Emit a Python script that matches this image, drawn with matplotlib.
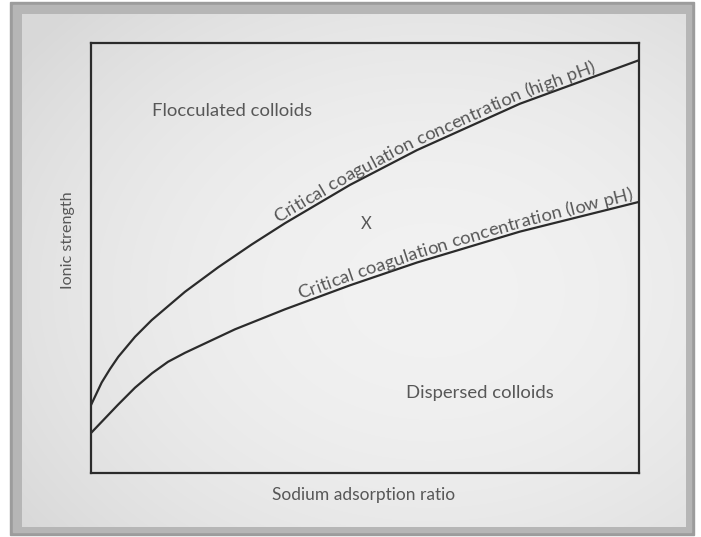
import numpy as np
import matplotlib
matplotlib.use("Agg")
import matplotlib.pyplot as plt
from matplotlib.patches import Rectangle
from matplotlib.transforms import IdentityTransform
from matplotlib.font_manager import FontProperties

# ---------------- data ----------------
sar_high = [0.0, 0.195, 0.347, 0.498, 0.803, 1.108, 1.715, 2.323, 2.932, 3.540, 4.726, 5.949, 7.828, 10.0]
ion_high = [1.58, 2.105, 2.419, 2.702, 3.167, 3.556, 4.214, 4.786, 5.314, 5.809, 6.700, 7.509, 8.588, 9.60]
sar_low = [0.0, 0.493, 0.803, 1.113, 1.405, 1.715, 2.628, 3.540, 4.726, 5.949, 7.828, 10.0]
ion_low = [0.93, 1.588, 1.984, 2.319, 2.586, 2.795, 3.342, 3.807, 4.365, 4.895, 5.614, 6.305]

label_high = "Critical coagulation concentration (high pH)"
label_low = "Critical coagulation concentration (low pH)"
region_top = "Flocculated colloids"
region_bottom = "Dispersed colloids"
marker_text = "X"
xlabel = "Sodium adsorption ratio"
ylabel = "Ionic strength"

FONT = "Lato"
TXT = "#575757"
LINE = "#2b2b2b"

W, H = 701, 537
fig = plt.figure(figsize=(W / 100, H / 100), dpi=100)
fig.patch.set_facecolor("white")

# ---------------- frame and gradient panel ----------------
bg = fig.add_axes([0, 0, 1, 1])
bg.set_xlim(0, W)
bg.set_ylim(H, 0)
bg.axis("off")
bg.add_patch(Rectangle((10, 2), 684, 533, color="#9c9c9c", zorder=0))
bg.add_patch(Rectangle((13, 5), 678, 527, color="#b6b6b6", zorder=0))
yy, xx = np.mgrid[14:527, 22:686]
r2 = ((xx - 430) / 430.0) ** 2 + ((yy - 290) / 330.0) ** 2
val = np.clip(0.948 - 0.07 * r2, 0.85, 1.0)
bg.imshow(np.dstack([val, val, val]), extent=(22, 686, 527, 14),
          aspect="auto", zorder=1, interpolation="bilinear")

# ---------------- main axes ----------------
ax = fig.add_axes([91 / W, (H - 473) / H, 548 / W, 430 / H])
ax.set_facecolor("none")
ax.set_xlim(0, 10)
ax.set_ylim(0, 10)
ax.set_xticks([])
ax.set_yticks([])
for s in ax.spines.values():
    s.set_linewidth(1.6)
    s.set_color(LINE)

ax.plot(sar_high, ion_high, color=LINE, lw=1.6, solid_capstyle="butt",
        solid_joinstyle="round", clip_on=False)
ax.plot(sar_low, ion_low, color=LINE, lw=1.6, solid_capstyle="butt",
        solid_joinstyle="round", clip_on=False)

ax.text(2.57, 8.42, region_top, ha="center", va="center", fontsize=13.3,
        family=FONT, color=TXT)
ax.text(7.10, 1.86, region_bottom, ha="center", va="center", fontsize=13.3,
        family=FONT, color=TXT)
ax.text(5.02, 5.79, marker_text, ha="center", va="center", fontsize=12,
        family=FONT, color=TXT)

fig.text(364 / W, 1 - 495 / H, xlabel, ha="center", va="center", fontsize=12.5,
         family=FONT, color=TXT)
fig.text(68 / W, 1 - 240 / H, ylabel, ha="center", va="center", fontsize=11.6,
         family=FONT, color=TXT, rotation=90)

# ---------------- text along curves ----------------
renderer = fig.canvas.get_renderer()


def text_along(xs, ys, text, x_start, size, offset):
    fp = FontProperties(family=FONT, size=size)
    pts = ax.transData.transform(np.column_stack([xs, ys]))
    seg = np.hypot(np.diff(pts[:, 0]), np.diff(pts[:, 1]))
    arc = np.concatenate([[0], np.cumsum(seg)])
    start_disp = ax.transData.transform((x_start, 0))[0]
    s0 = np.interp(start_disp, pts[:, 0], arc)

    def at(s):
        return np.interp(s, arc, pts[:, 0]), np.interp(s, arc, pts[:, 1])

    bar_w = renderer.get_text_width_height_descent("|", fp, ismath=False)[0]
    pos = []
    for i in range(len(text) + 1):
        w = renderer.get_text_width_height_descent(text[:i] + "|", fp, ismath=False)[0]
        pos.append(w - bar_w)
    pos = np.array(pos)
    for i, ch in enumerate(text):
        if ch == " ":
            continue
        c = s0 + 0.5 * (pos[i] + pos[i + 1])
        x1, y1 = at(c - 18)
        x2, y2 = at(c + 18)
        ang = np.arctan2(y2 - y1, x2 - x1)
        px, py = at(c)
        nx, ny = -np.sin(ang), np.cos(ang)
        fig.text(px + nx * offset, py + ny * offset, ch, transform=IdentityTransform(),
                 rotation=np.degrees(ang), rotation_mode="anchor",
                 ha="center", va="baseline", fontproperties=fp, color=TXT)


text_along(sar_high, ion_high, label_high, 3.45, 13.3, 4.0)
text_along(sar_low, ion_low, label_low, 3.85, 13.3, 4.0)

fig.savefig("out.png", dpi=100)
